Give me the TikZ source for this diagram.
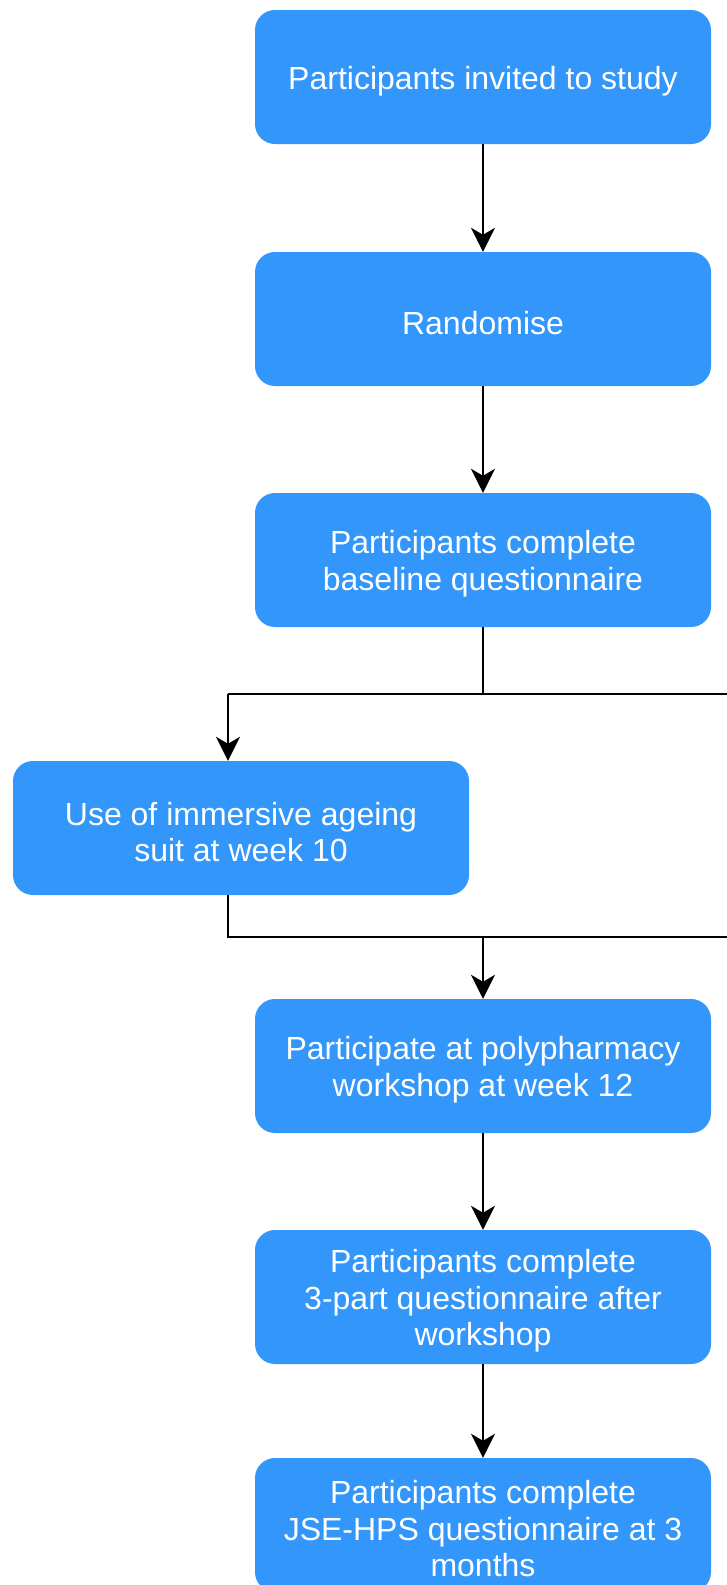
\documentclass[tikz,border=0pt]{standalone}
\usepackage{fontspec}
\setmainfont{Liberation Sans}
\usetikzlibrary{arrows.meta}
\definecolor{boxblue}{RGB}{51,150,250}
\newcommand\mytstrut{\rule{0pt}{31pt}}
\tikzset{
  box/.style={fill=boxblue, draw=none, rounded corners=20pt, minimum width=456pt, minimum height=134pt,
    inner sep=0pt, align=center, text=white, font=\fontsize{32}{36.5}\selectfont},
  conn/.style={draw=black, line width=2.6pt},
  arr/.style={conn, -{Stealth[length=24pt,width=24pt,inset=7pt]}}
}
\begin{document}
\begin{tikzpicture}[x=1pt,y=-1pt]
\useasboundingbox (0,0) rectangle (727,1585);
\fill[white] (0,0) rectangle (727,1585);
\node[box] (b1) at (483,77) {\mytstrut Participants invited to study};
\node[box] (b2) at (483,319) {\mytstrut Randomise};
\node[box] (b3) at (483,560) {\mytstrut Participants complete\\baseline questionnaire};
\node[box] (b4) at (241,828) {\mytstrut Use of immersive ageing\\suit at week 10};
\node[box] (b5) at (483,1066) {\mytstrut Participate at polypharmacy\\workshop at week 12};
\node[box] (b6) at (483,1297) {\mytstrut Participants complete\\3-part questionnaire after\\workshop};
\node[box] (b7) at (483,1525) {\mytstrut Participants complete\\JSE-HPS questionnaire at 3\\months};
\coordinate (s1) at (483,694);
\coordinate (s1l) at (228,694);
\coordinate (s1r) at (730,694);
\coordinate (m1) at (483,937);
\coordinate (m1l) at (228,937);
\coordinate (m1r) at (730,937);
\draw[arr] (b1) -- (b2);
\draw[arr] (b2) -- (b3);
\draw[conn] (b3.south) -- (s1);
\draw[conn] (s1l) -- (s1r);
\draw[arr] (s1l) -- (s1l |- b4.north);
\draw[conn] (s1l |- b4.south) -- (m1l) -- (m1r);
\draw[arr] (m1) -- (b5.north);
\draw[arr] (b5) -- (b6);
\draw[arr] (b6) -- (b7);
\end{tikzpicture}
\end{document}
